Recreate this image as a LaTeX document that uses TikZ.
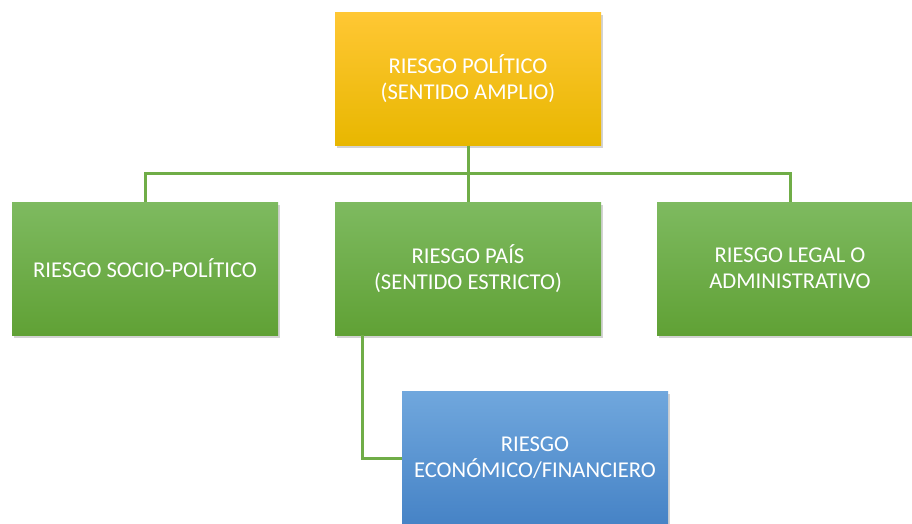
\documentclass[tikz,border=0pt]{standalone}
\usepackage{fontspec}
\setmainfont{Carlito}
\usetikzlibrary{shadows}
\definecolor{goldA}{HTML}{FFC734}
\definecolor{goldB}{HTML}{E8B700}
\definecolor{greenA}{HTML}{7EBA60}
\definecolor{greenB}{HTML}{60A135}
\definecolor{blueA}{HTML}{70A7DD}
\definecolor{blueB}{HTML}{4683C6}
\definecolor{wire}{HTML}{70AD47}
\begin{document}
\begin{tikzpicture}[x=1pt,y=-1pt,
	box/.style={rectangle, minimum width=266pt, minimum height=133pt, align=center,
		text=white, font=\fontsize{22.6}{26}\selectfont, inner sep=0pt,
		drop shadow={opacity=0.35, shadow xshift=2pt, shadow yshift=-2.5pt}},
	gold/.style={box, top color=goldA, bottom color=goldB},
	leaf/.style={box, top color=greenA, bottom color=greenB},
	sky/.style={box, top color=blueA, bottom color=blueB},
	link/.style={draw=wire, line width=3pt}]
	\useasboundingbox (0,0) rectangle (912,523);
	\clip (0,0) rectangle (912,523);
	\node (top)   at (468, 79)   [gold]	{RIESGO POLÍTICO\\(SENTIDO AMPLIO)};
	\node (left)  at (145, 268.5) [leaf]	{RIESGO SOCIO-POLÍTICO};
	\node (mid)   at (468, 268.5) [leaf]	{RIESGO PAÍS\\(SENTIDO ESTRICTO)};
	\node (right) at (790, 268.5) [leaf]	{RIESGO LEGAL O\\ADMINISTRATIVO};
	\node (econ)  at (535, 458)   [sky]	{RIESGO\\ECONÓMICO/FINANCIERO};
	\coordinate (bus) at (468, 173);
	\coordinate (foot) at (362, 335);
	\draw[link] (top.south) -- (bus);
	\draw[link] (bus) -| (left.north);
	\draw[link] (bus) -- (mid.north);
	\draw[link] (bus) -| (right.north);
	\draw[link] (foot) |- (econ.west);
\end{tikzpicture}
\end{document}
